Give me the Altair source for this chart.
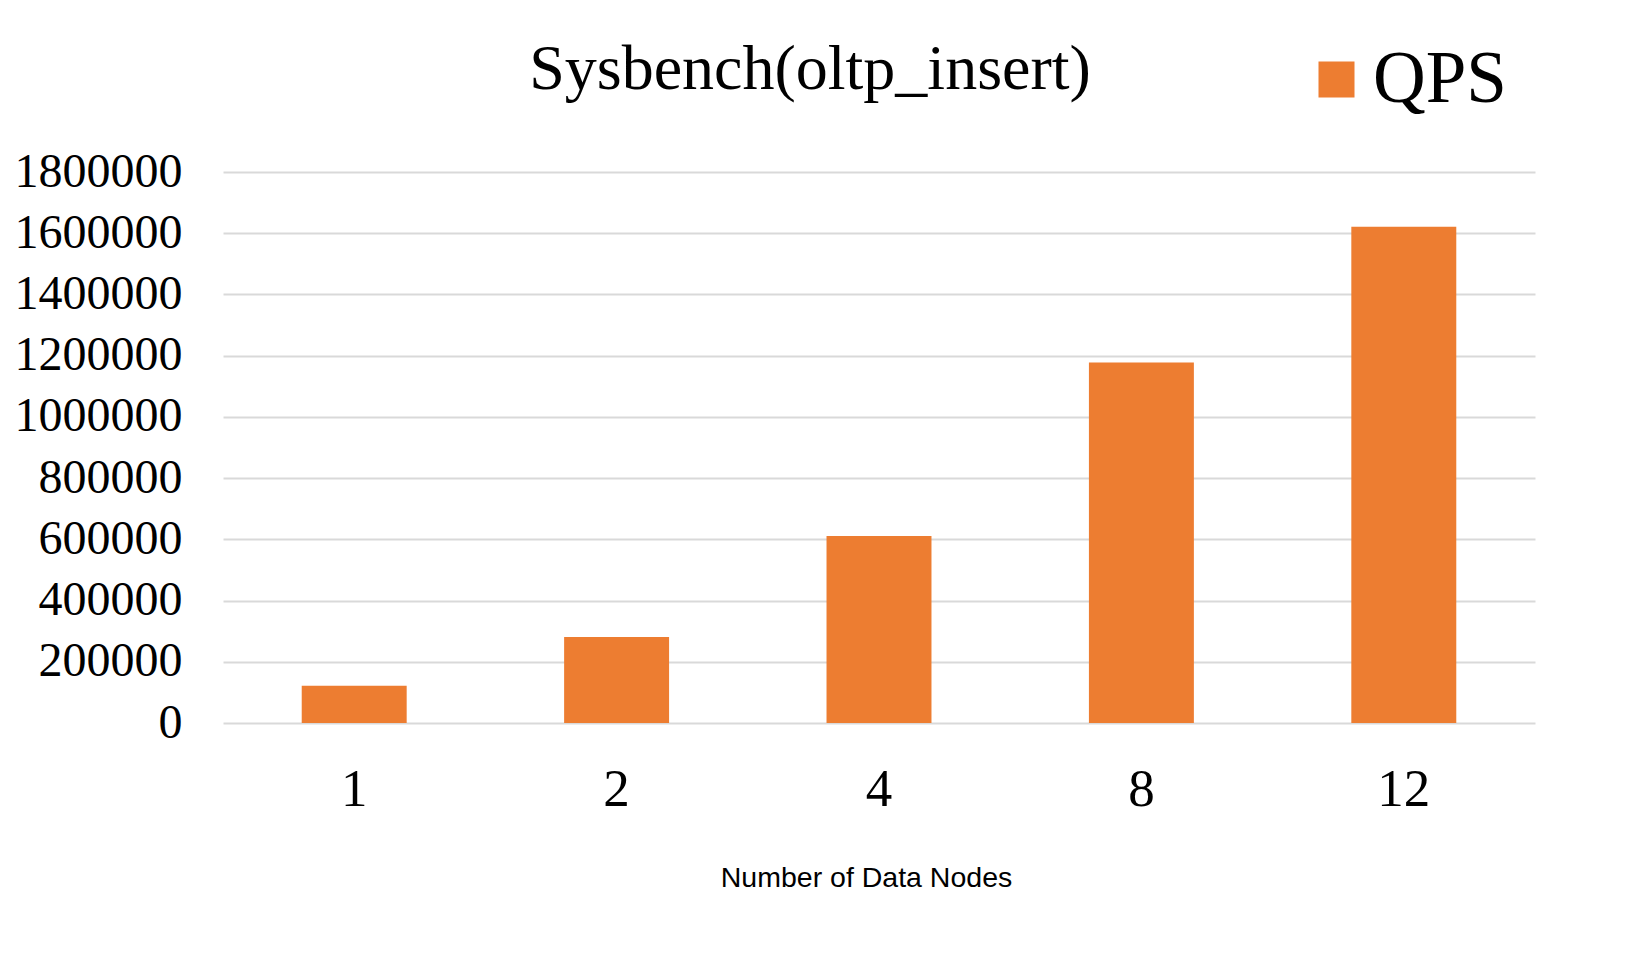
import altair as alt
import pandas as pd

nodes = ["1", "2", "4", "8", "12"]
qps = [121500, 281000, 611000, 1177500, 1621500]
series = ["QPS"] * len(nodes)
title_text = "Sysbench(oltp_insert)"

df = pd.DataFrame({"nodes": nodes, "qps": qps, "series": series})

SERIF = "Liberation Serif"

bars = alt.Chart(df).mark_bar(color="#ED7D31").encode(
    x=alt.X(
        "nodes:N",
        sort=nodes,
        scale=alt.Scale(paddingInner=0.6, paddingOuter=0.3),
        axis=alt.Axis(
            title="Number of Data Nodes",
            titleFont="Liberation Sans",
            titleFontSize=28.5,
            titleFontWeight="normal",
            titleColor="#000000",
            titleX=643,
            titleY=154,
            titleBaseline="middle",
            titleAnchor="start",
            titleAlign="center",
            labelFont=SERIF,
            labelFontSize=53,
            labelColor="#000000",
            labelAngle=0,
            labelPadding=40,
            ticks=False,
            domain=False,
            grid=False,
        ),
    ),
    y=alt.Y(
        "qps:Q",
        scale=alt.Scale(domain=[0, 1800000], nice=False),
        axis=alt.Axis(
            title=None,
            values=[0, 200000, 400000, 600000, 800000, 1000000, 1200000, 1400000, 1600000, 1800000],
            format="d",
            labelFont=SERIF,
            labelFontSize=48,
            labelColor="#000000",
            labelPadding=41,
            ticks=False,
            domain=False,
            grid=True,
            gridColor="#D9D9D9",
            gridWidth=2.2,
        ),
    ),
    color=alt.Color(
        "series:N",
        scale=alt.Scale(domain=["QPS"], range=["#ED7D31"]),
        legend=alt.Legend(
            title=None,
            orient="none",
            legendX=1077,
            legendY=-129,
            symbolType="square",
            symbolSize=1296,
            symbolStrokeWidth=0,
            labelFont=SERIF,
            labelFontSize=73,
            labelColor="#000000",
            labelOffset=0,
            padding=0,
        ),
    ),
)

title = alt.Chart(pd.DataFrame({"t": [title_text]})).mark_text(
    font=SERIF,
    fontSize=64,
    color="#000000",
    align="center",
    baseline="alphabetic",
).encode(
    text="t:N",
    x=alt.value(587),
    y=alt.value(-83),
)

chart = alt.layer(bars, title).properties(
    width=1312,
    height=551,
    background="#FFFFFF",
    autosize=alt.AutoSizeParams(type="none"),
    padding={"left": 223, "top": 172, "right": 92, "bottom": 254},
).configure_view(strokeWidth=0, stroke="transparent")

chart.save("out.html", embed_options={"renderer": "svg", "actions": False})
